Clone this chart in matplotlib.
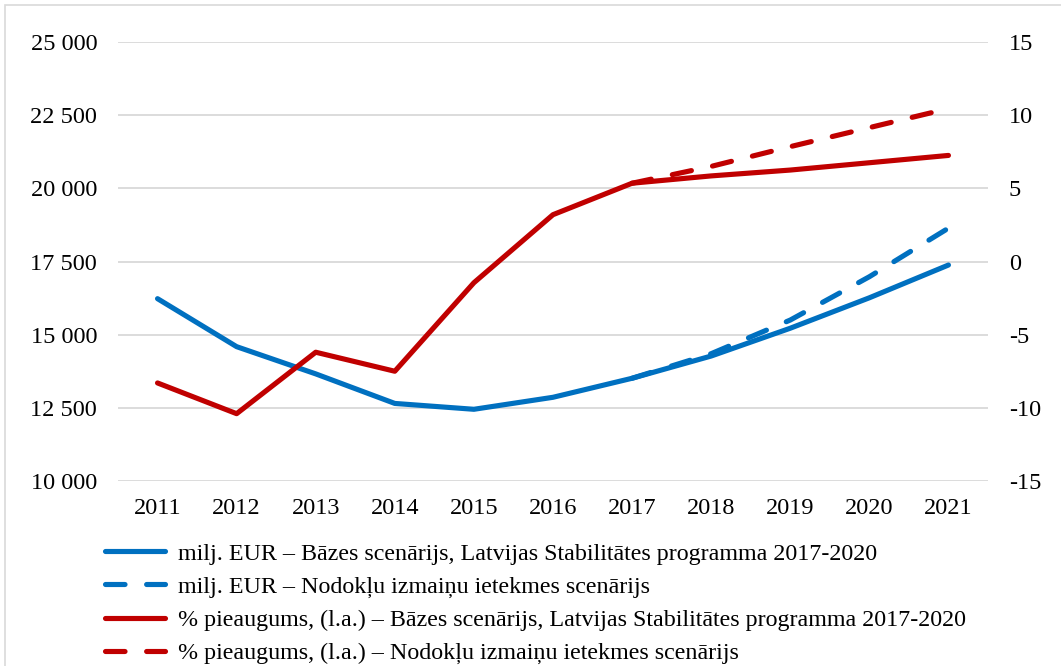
import numpy as np
import matplotlib.pyplot as plt
from matplotlib.patches import Rectangle
from matplotlib.ticker import FuncFormatter, MultipleLocator

plt.rcParams.update({
    "font.family": "Liberation Serif",
    "font.size": 17,
})

years = [2011, 2012, 2013, 2014, 2015, 2016, 2017, 2018, 2019, 2020, 2021]
proj_years = [2017, 2018, 2019, 2020, 2021]

# milj. EUR (left axis)
eur_base = [16230, 14590, 13660, 12650, 12450, 12860, 13510, 14270, 15220, 16260, 17380]
eur_tax = [13510, 14350, 15500, 16980, 18640]

# % pieaugums (right axis)
pct_base = [-8.3, -10.4, -6.2, -7.5, -1.45, 3.2, 5.35, 5.85, 6.25, 6.75, 7.25]
pct_tax = [5.35, 6.5, 7.85, 9.15, 10.45]

labels = [
    "milj. EUR – Bāzes scenārijs, Latvijas Stabilitātes programma 2017-2020",
    "milj. EUR – Nodokļu izmaiņu ietekmes scenārijs",
    "% pieaugums, (l.a.) – Bāzes scenārijs, Latvijas Stabilitātes programma 2017-2020",
    "% pieaugums, (l.a.) – Nodokļu izmaiņu ietekmes scenārijs",
]

blue = "#0070C0"
red = "#C00000"
grid_c = "#D9D9D9"
dash = (3.8, 4.2)
lw = 3.7

fig = plt.figure(figsize=(10.61, 6.66), dpi=100)
ax = fig.add_axes([0.1112, 0.2778, 0.8200, 0.6591])
ax2 = ax.twinx()

x = np.arange(len(years))
xp = x[years.index(proj_years[0]):]

l1, = ax.plot(x, eur_base, color=blue, lw=lw, solid_capstyle="round", zorder=3)
l2, = ax.plot(xp, eur_tax, color=blue, lw=lw, dashes=dash, dash_capstyle="round", zorder=4)
l3, = ax2.plot(x, pct_base, color=red, lw=lw, solid_capstyle="round", zorder=3)
l4, = ax2.plot(xp, pct_tax, color=red, lw=lw, dashes=dash, dash_capstyle="round", zorder=4)

ax.set_xlim(-0.5, len(years) - 0.5)
ax.set_ylim(10000, 25000)
ax2.set_ylim(-15, 15)
ax.yaxis.set_major_locator(MultipleLocator(2500))
ax2.yaxis.set_major_locator(MultipleLocator(5))
ax.yaxis.set_major_formatter(FuncFormatter(lambda v, p: f"{int(v):,}".replace(",", " ")))
ax2.yaxis.set_major_formatter(FuncFormatter(lambda v, p: f"{int(v)}"))

ax.set_xticks(x)
ax.set_xticklabels([str(y) for y in years])

ax.grid(axis="y", color=grid_c, lw=1.3)
ax.set_axisbelow(True)
for a in (ax, ax2):
    for s in a.spines.values():
        s.set_visible(False)
ax.tick_params(axis="both", length=0, labelsize=17.5)
ax.tick_params(axis="y", pad=15)
ax.tick_params(axis="x", pad=12)
ax2.tick_params(axis="y", length=0, labelsize=17.5, pad=15)

fig.legend([l1, l2, l3, l4], labels, loc="upper left",
           bbox_to_anchor=(0.099, 0.185), frameon=False, fontsize=17.3,
           handlelength=2.5, handletextpad=0.55, labelspacing=0.47,
           borderaxespad=0, borderpad=0)

# outer chart frame
fig.patches.append(Rectangle((0.0047, -0.2), 1.5, 1.192, transform=fig.transFigure,
                             fill=False, edgecolor=grid_c, lw=1.2))

fig.savefig("out.png", dpi=100)
